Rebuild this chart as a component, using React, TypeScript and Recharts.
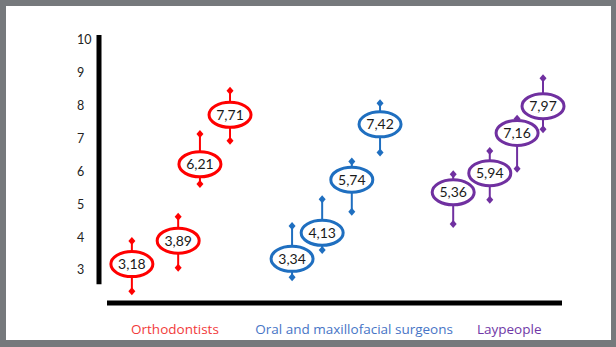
import React from "react";
import { ScatterChart, Scatter, XAxis, YAxis, ReferenceLine } from "recharts";

const groups = ["Orthodontists", "Oral and maxillofacial surgeons", "Laypeople"];
const groupColors = ["#ff0000", "#1f6fc0", "#7030a0"];
const groupTextColors = ["#f23a3a", "#4775c6", "#7038a6"];
const groupCenters = [16.4, 55.1, 88.6];

// one entry per ellipse, left to right
const pointGroup = [0, 0, 0, 0, 1, 1, 1, 1, 2, 2, 2, 2];
const pointX = [7.1, 17.1, 21.8, 28.3, 41.7, 48.2, 54.6, 60.7, 76.5, 84.4, 90.3, 95.9];
const means = [3.18, 3.89, 6.21, 7.71, 3.34, 4.13, 5.74, 7.42, 5.36, 5.94, 7.16, 7.97];
const lows = [2.36, 3.07, 5.61, 6.92, 2.78, 3.61, 4.77, 6.57, 4.4, 5.13, 6.07, 7.27];
const highs = [3.88, 4.62, 7.13, 8.44, 4.34, 5.15, 6.29, 8.06, 5.91, 6.61, 7.59, 8.82];

const yTicks = [3, 4, 5, 6, 7, 8, 9, 10];

const points = means.map((m, i) => ({
  x: pointX[i],
  y: m,
  color: groupColors[pointGroup[i]],
}));

const whiskers = means.map((_, i) => [
  { x: pointX[i], y: lows[i] },
  { x: pointX[i], y: highs[i] },
]);

const Diamond = (props: any) => {
  const { cx, cy, fill } = props;
  return (
    <polygon
      points={`${cx},${cy - 4} ${cx + 3.5},${cy} ${cx},${cy + 4} ${cx - 3.5},${cy}`}
      fill={fill}
    />
  );
};

const MeanBadge = (props: any) => {
  const { cx, cy, payload } = props;
  return (
    <g>
      <ellipse cx={cx} cy={cy} rx={21} ry={12.5} fill="#fff" stroke={payload.color} strokeWidth={3} />
      <text
        x={cx}
        y={cy}
        dy={5}
        textAnchor="middle"
        fontFamily="Lato, sans-serif"
        fontSize={14}
        fill="#1a1a1a"
      >
        {payload.y.toFixed(2).replace(".", ",")}
      </text>
    </g>
  );
};

const GroupTick = (props: any) => {
  const { x, y, payload } = props;
  const i = groupCenters.indexOf(payload.value);
  return (
    <text
      x={x}
      y={y}
      dy={10}
      textAnchor="middle"
      fontFamily="'Open Sans', sans-serif"
      fontSize={13.5}
      fill={groupTextColors[i]}
    >
      {groups[i]}
    </text>
  );
};

export default function App() {
  return (
    <div style={{ position: "fixed", left: 0, top: 0, width: 616, height: 347, background: "#76797c" }}>
      <div style={{ position: "absolute", left: 6, top: 6, width: 605, height: 334, background: "#fff" }} />
      <div style={{ position: "absolute", left: 0, top: 0 }}>
        <ScatterChart width={616} height={347} margin={{ top: 34.4, right: 54, bottom: 14, left: 69 }}>
          <XAxis
            type="number"
            dataKey="x"
            domain={[0, 100]}
            ticks={groupCenters}
            interval={0}
            axisLine={false}
            tickLine={false}
            tickSize={0}
            tickMargin={21}
            height={30}
            tick={<GroupTick />}
          />
          <YAxis
            type="number"
            dataKey="y"
            domain={[2, 10.15]}
            ticks={yTicks}
            interval={0}
            axisLine={false}
            tickLine={false}
            tickSize={0}
            tickMargin={22}
            width={30}
            tick={{ textAnchor: "start", fill: "#222", fontSize: 12.5, fontFamily: "Lato, sans-serif" }}
          />
          {/* heavy axis bars */}
          <ReferenceLine
            segment={[{ x: 0, y: 2.57 }, { x: 0, y: 10.13 }]}
            stroke="#000"
            strokeWidth={5}
          />
          <ReferenceLine
            segment={[{ x: 1.73, y: 2 }, { x: 100, y: 2 }]}
            stroke="#000"
            strokeWidth={5}
          />
          {whiskers.map((w, i) => (
            <Scatter
              key={i}
              data={w}
              fill={groupColors[pointGroup[i]]}
              line={{ stroke: groupColors[pointGroup[i]], strokeWidth: 2 }}
              shape={<Diamond />}
              isAnimationActive={false}
            />
          ))}
          <Scatter data={points} shape={<MeanBadge />} isAnimationActive={false} />
        </ScatterChart>
      </div>
    </div>
  );
}
